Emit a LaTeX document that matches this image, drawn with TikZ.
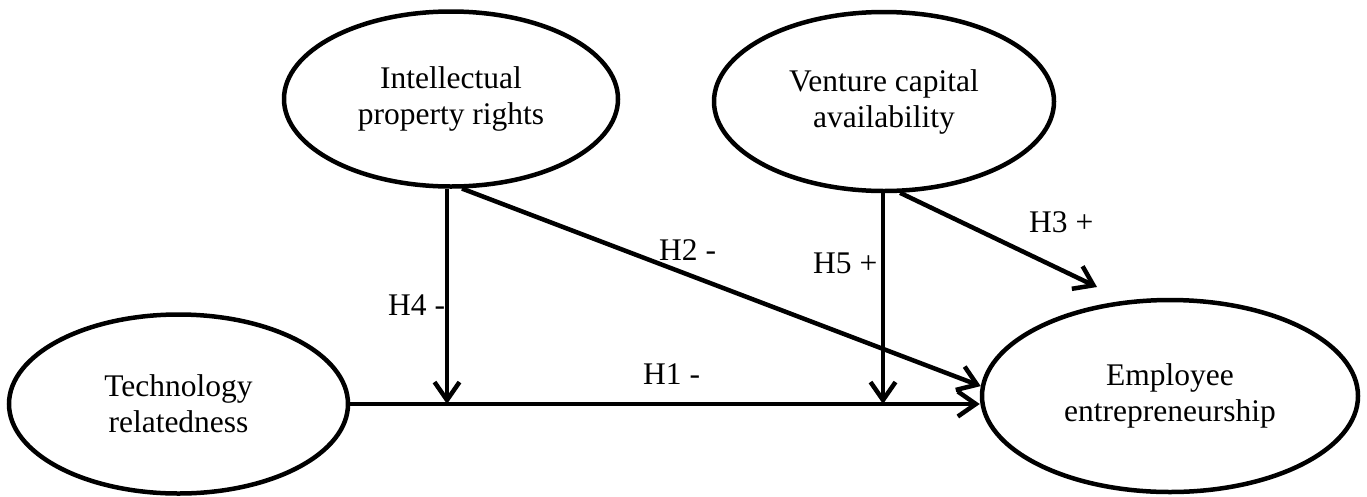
\documentclass[tikz,border=0pt]{standalone}
\usepackage{fontspec}
\setmainfont{Liberation Serif}
\usetikzlibrary{shapes.geometric,arrows.meta}
\begin{document}
\begin{tikzpicture}[x=1pt,y=-1pt,
  concept/.style={ellipse,draw,line width=4.5pt,inner sep=0pt,align=center,
    font=\fontsize{31.5}{36}\selectfont},
  link/.style={line width=4.5pt,line join=round,
    -{Straight Barb[length=18pt,width=25pt]}},
  hyp/.style={anchor=base west,inner sep=0pt,font=\fontsize{31.5}{36}\selectfont}]
\useasboundingbox (0,0) rectangle (1367,496);
% concepts
\node[concept,minimum width=339pt,minimum height=179pt] (tech) at (178.5,404) {Technology\\relatedness};
\node[concept,minimum width=334pt,minimum height=175pt] (ipr) at (451,99) {Intellectual\\property rights};
\node[concept,minimum width=340pt,minimum height=179pt] (vc) at (884,101.5) {Venture capital\\availability};
\node[concept,minimum width=376pt,minimum height=192pt] (emp) at (1170,396) {Employee\\entrepreneurship};
% junctions and free ends
\coordinate (j1) at (447,404);
\coordinate (j2) at (883,404);
\coordinate (h3end) at (1097,287);
% connectors
\draw[link] (tech) -- (tech -| emp.west);
\draw[link] (j1 |- ipr.south) -- (j1);
\draw[link] (j2 |- vc.south) -- (j2);
\draw[link] (ipr.277) -- (emp.177);
\draw[link] (vc.280) -- (h3end);
% labels
\node[hyp] (l1) at (643,384) {H1 -};
\node[hyp] (l2) at (659,260) {H2 -};
\node[hyp] (l3) at (1029,232) {H3 +};
\node[hyp] (l4) at (388,315) {H4 -};
\node[hyp] (l5) at (813,273) {H5 +};
\end{tikzpicture}
\end{document}
